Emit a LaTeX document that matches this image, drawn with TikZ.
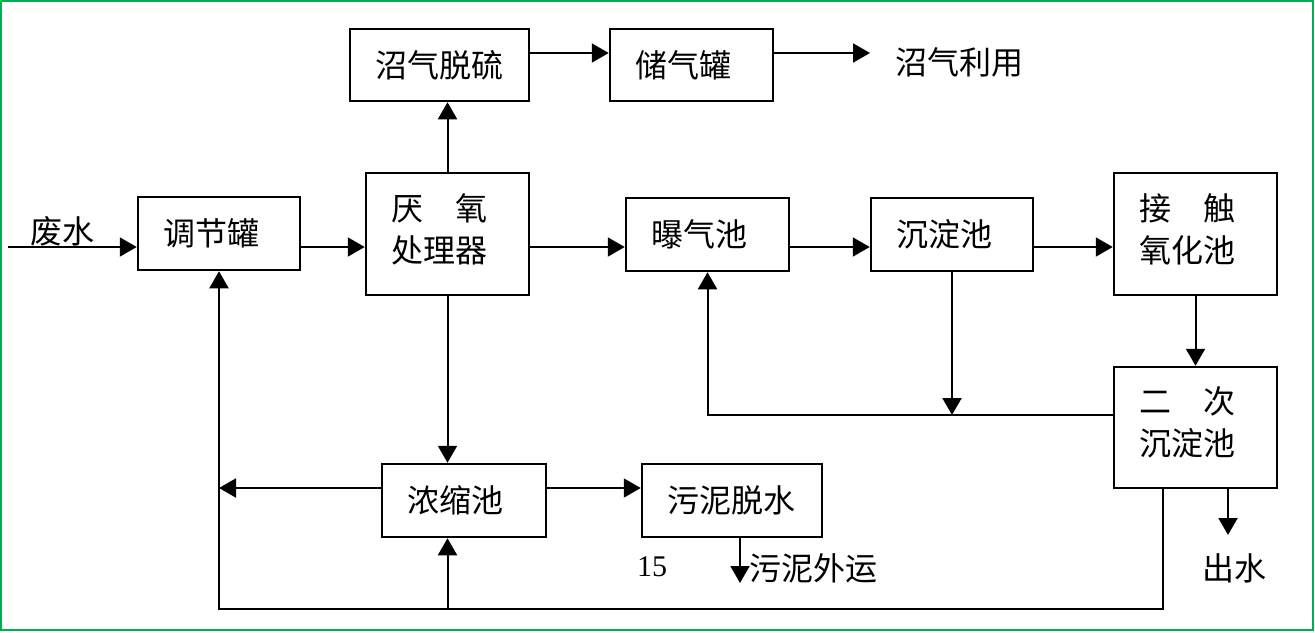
\documentclass[tikz,border=0pt]{standalone}
\usepackage{fontspec}
\setmainfont{Liberation Serif}
\newfontfamily\zh{Noto Sans CJK SC}
\usetikzlibrary{arrows.meta}
\definecolor{framegreen}{RGB}{0,176,80}

\begin{document}
\begin{tikzpicture}[
  x=0.5pt, y=-0.5pt,
  stage/.style={draw,line width=1.25pt,align=left,inner xsep=12.5pt,inner ysep=0pt,
    font=\zh\fontsize{16}{21}\selectfont,text width=#1},
  stage/.default=56pt,
  lifted/.style={execute at end node={\endgraf\vspace*{5pt}}},
  note/.style={font=\zh\fontsize{16}{21}\selectfont,inner sep=0pt},
  flow/.style={draw,line width=1pt,-{Triangle[length=8.5pt,width=9.5pt]}},
  every edge/.style={flow},
]
  \useasboundingbox (0,0) rectangle (1315,632);
  \draw[framegreen,line width=1.25pt] (1,1) rectangle (1313,630);

  % Gas line
  \node[stage=64.5pt,minimum height=36pt] (desulf) at (439.5,65) {沼气脱硫};
  \node[stage=56.5pt,minimum height=36pt] (holder) at (691.5,65) {储气罐};
  \node[note,anchor=west] (gasuse) at (895,62) {沼气利用};

  % Main treatment row
  \node[stage,minimum height=36.5pt] (tank) at (219,233.5) {调节罐};
  \node[stage=56.5pt,lifted,minimum height=61pt] (reactor) at (447.5,234) {厌\quad 氧\\处理器};
  \node[stage=56.5pt,minimum height=36.5pt] (aeration) at (707.5,234.5) {曝气池};
  \node[stage,minimum height=36.5pt] (settler) at (952,234.5) {沉淀池};
  \node[stage=56.5pt,lifted,minimum height=61pt] (contact) at (1195.5,234) {接\quad 触\\氧化池};
  \node[stage=56.5pt,lifted,minimum height=60.5pt] (clarifier) at (1195.5,427.5) {二\quad 次\\沉淀池};

  % Sludge line
  \node[stage=57pt,minimum height=36.5pt] (thickener) at (464,500.5) {浓缩池};
  \node[stage=65pt,minimum height=36.5pt] (dewater) at (732,500.5) {污泥脱水};

  % Free labels
  \node[note] (raw) at (62,231) {废水};
  \node[note] (effluent) at (1234,568) {出水};
  \node[note,anchor=west] (haul) at (749,568) {污泥外运};
  \node[font=\fontsize{15}{18}\selectfont,inner sep=0pt] (pageno) at (652,567) {15};

  % Helper points
  \coordinate (inlet) at (8,247);
  \coordinate (row) at (0,247);
  \coordinate (gas) at (0,53);
  \coordinate (gasend) at (870,53);
  \coordinate (ret) at (0,415);
  \coordinate (mid) at (0,488);
  \coordinate (bot) at (1163,609);
  \coordinate (cake) at (740,583);
  \coordinate (outlet) at (1228,535);

  % Edges: main row
  \path (inlet) edge (inlet -| tank.west);
  \path (tank.east |- row) edge (reactor.west |- row);
  \path (reactor.east |- row) edge (aeration.west |- row);
  \path (aeration.east |- row) edge (settler.west |- row);
  \path (settler.east |- row) edge (contact.west |- row);
  \path (contact.south) edge (clarifier.north);
  \path (clarifier.south -| outlet) edge (outlet);

  % Edges: gas
  \path (reactor.north) edge (reactor.north |- desulf.south);
  \path (desulf.east |- gas) edge (holder.west |- gas);
  \path (holder.east |- gas) edge (gasend);

  % Edges: return sludge
  \draw[flow] (clarifier.west |- ret) -| (aeration.south);
  \path (settler.south) edge (settler.south |- ret);

  % Edges: sludge
  \path (reactor.south) edge (reactor.south |- thickener.north);
  \path (thickener.west |- mid) edge (tank.south |- mid);
  \path (thickener.east |- mid) edge (dewater.west |- mid);
  \path (dewater.south -| cake) edge (cake);
  \draw[flow] (clarifier.south -| bot) -- (bot) -| (tank.south);
  \path (reactor.south |- bot) edge (reactor.south |- thickener.south);
\end{tikzpicture}
\end{document}
